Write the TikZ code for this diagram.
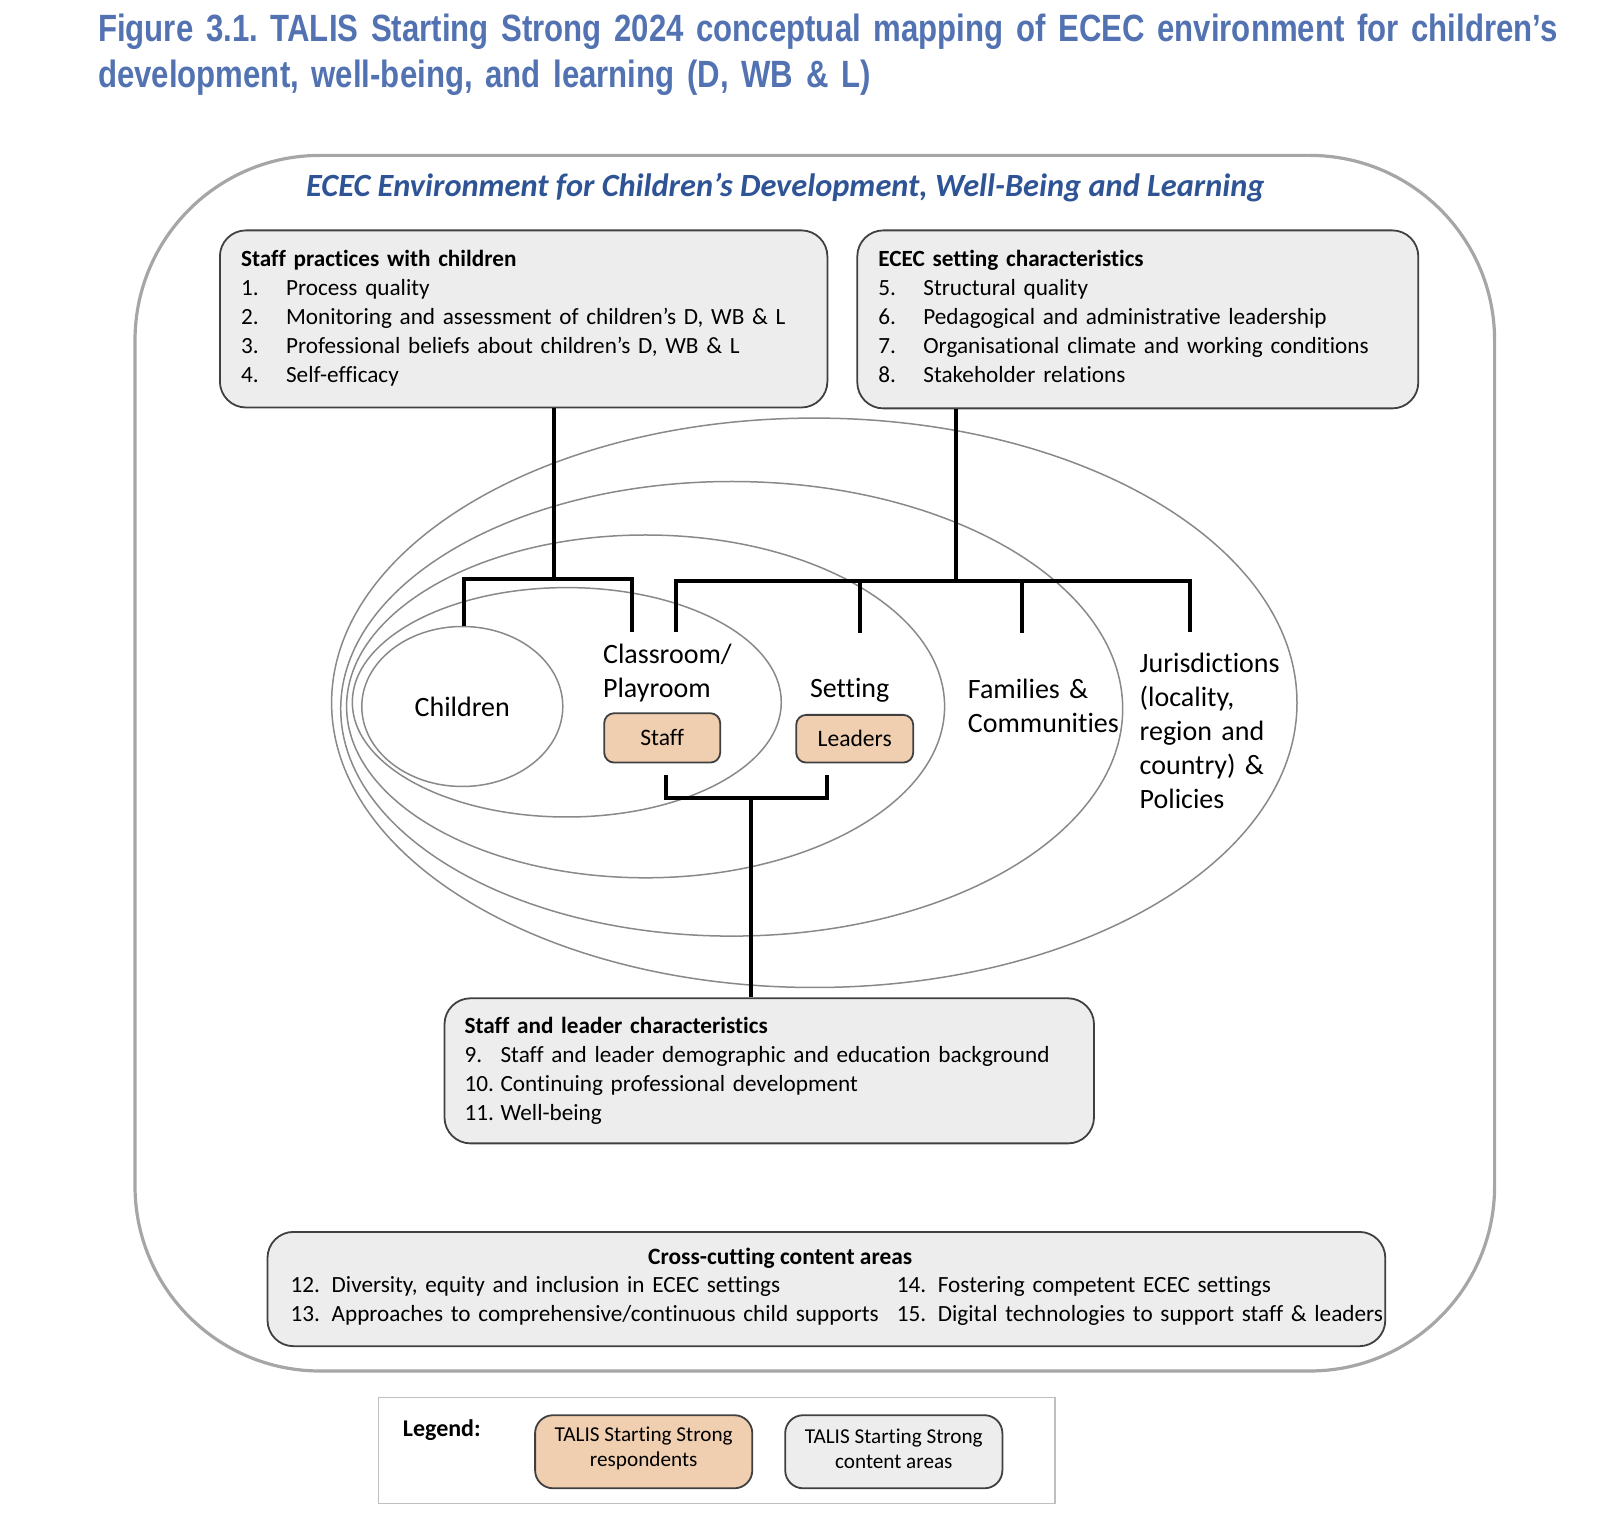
\documentclass[tikz,border=0pt]{standalone}
\usepackage{fontspec}
\setmainfont{Carlito}[Ligatures=NoCommon]
\newfontfamily\titlefont[FakeStretch=0.82]{Liberation Sans}
\usepackage{xcolor}
\usetikzlibrary{positioning, shapes.geometric, calc}
\definecolor{titleblue}{RGB}{82,114,178}
\definecolor{headblue}{RGB}{47,84,150}
\definecolor{boxgray}{RGB}{237,237,237}
\definecolor{peach}{RGB}{240,206,176}
\definecolor{ringgray}{RGB}{137,137,137}
\definecolor{framegray}{RGB}{166,166,166}
\tikzset{
    ring/.style={ellipse, draw=ringgray, line width=0.75pt, inner sep=0pt}, % ellissi annidate
    contentbox/.style={draw=black!75, fill=boxgray, rounded corners=13pt, line width=0.9pt, inner sep=0pt, anchor=north west},
    rolebox/.style={draw=black!75, fill=peach, rounded corners=5pt, line width=0.9pt, inner sep=0pt, anchor=north west, font=\fontsize{11.8}{13}\selectfont},
    link/.style={line width=1.8pt, black},
    frame/.style={draw=framegray, line width=1.6pt, rounded corners=92.5pt},
    ringlabel/.style={font=\fontsize{14}{17}\selectfont, inner sep=0pt},
    listtext/.style={font=\fontsize{11.6}{14.4}\selectfont, inner sep=0pt, align=left, anchor=base west},
    keytext/.style={inner sep=0pt, align=center, font=\fontsize{10.6}{12.35}\selectfont},
}
\newcommand{\itm}[1]{\makebox[22.5pt][l]{#1}}
\newcommand{\itmb}[1]{\makebox[18pt][l]{#1}}

\begin{document}
\begin{tikzpicture}[x=0.5pt, y=-0.5pt]
    \useasboundingbox (0,0) rectangle (1614,1534);

    % Titolo
    \node[inner sep=0pt, anchor=base west, align=left, text width=790pt, text=titleblue,
          font=\titlefont\bfseries\fontsize{19}{22.8}\selectfont\frenchspacing] (title) at (97.8,41.7)
        {Figure 3.1. TALIS Starting Strong 2024 conceptual mapping of ECEC environment for children’s\\development, well-being, and learning (D, WB \& L)};

    % Cornice
    \draw[frame] (135,155.4) rectangle (1494.6,1371);
    \node[inner sep=0pt, anchor=base, text=headblue, font=\bfseries\itshape\fontsize{16.2}{18}\selectfont] (envhead) at (785.4,197)
        {ECEC Environment for Children’s Development, Well-Being and Learning};

    % Riquadri
    \node[contentbox, minimum width=303.75pt, minimum height=88.55pt] (practices) at (219,229.5) {};
    \node[listtext, text width=295pt] (practicestext) at (240.7,267)
        {\textbf{Staff practices with children}\\
         \itm{1.}Process quality\\
         \itm{2.}Monitoring and assessment of children’s D, WB \& L\\
         \itm{3.}Professional beliefs about children’s D, WB \& L\\
         \itm{4.}Self-efficacy};
    \node[contentbox, minimum width=280.5pt, minimum height=89pt] (settingchar) at (856.4,229.5) {};
    \node[listtext, text width=270pt] (settingtext) at (878,267)
        {\textbf{ECEC setting characteristics}\\
         \itm{5.}Structural quality\\
         \itm{6.}Pedagogical and administrative leadership\\
         \itm{7.}Organisational climate and working conditions\\
         \itm{8.}Stakeholder relations};
    \node[contentbox, minimum width=324.75pt, minimum height=72.55pt] (staffchar) at (443.6,997.4) {};
    \node[listtext, text width=315pt, font=\fontsize{11.6}{14.5}\selectfont] (staffchartext) at (464.2,1034)
        {\textbf{Staff and leader characteristics}\\
         \itmb{9.}Staff and leader demographic and education background\\
         \itmb{10.}Continuing professional development\\
         \itmb{11.}Well-being};
    \node[contentbox, minimum width=558.9pt, minimum height=57.15pt] (crosscut) at (266.6,1231) {};
    \node[inner sep=0pt, anchor=base, font=\bfseries\fontsize{11.7}{14.5}\selectfont] (crosshead) at (780.2,1264.5)
        {Cross-cutting content areas};
    \node[listtext, text width=300pt, font=\fontsize{11.6}{14.7}\selectfont] (crossleft) at (290.3,1292)
        {12. Diversity, equity and inclusion in ECEC settings\\
         13. Approaches to comprehensive/continuous child supports};
    \node[listtext, text width=260pt, font=\fontsize{11.6}{14.7}\selectfont] (crossright) at (896.5,1292)
        {14. Fostering competent ECEC settings\\
         15. Digital technologies to support staff \& leaders};

    % Ellissi
    \node[ring, minimum width=482.7pt, minimum height=284.7pt] (jurring) at (814.3,702.8) {};
    \node[ring, minimum width=391pt, minimum height=227.3pt] (famring) at (731.7,708.8) {};
    \node[ring, minimum width=299pt, minimum height=171.4pt] (setring) at (645.6,706.4) {};
    \node[ring, minimum width=214.5pt, minimum height=114.7pt] (roomring) at (566.8,702.3) {};
    \node[ring, minimum width=100.5pt, minimum height=80pt, font=\fontsize{14}{17}\selectfont] (kids) at (462.3,706.5) {Children};

    \node[ringlabel, anchor=base west, text width=80pt, align=left] (roomlbl) at (602.7,664) {Classroom/\\Playroom};
    \node[ringlabel, anchor=base] (setlbl) at (849.7,697.3) {Setting};
    \node[ringlabel, anchor=base west, text width=80pt, align=left] (famlbl) at (967.5,698.3) {Families \&\\Communities};
    \node[ringlabel, anchor=base west, text width=80pt, align=left] (jurlbl) at (1139.3,672.7)
        {Jurisdictions\\(locality,\\region and\\country) \&\\Policies};

    \node[rolebox, minimum width=58pt, minimum height=24.7pt] (staff) at (603.3,712.3) {Staff};
    \node[rolebox, minimum width=58.5pt, minimum height=23.85pt] (leaders) at (795.3,714) {Leaders};

    % Collegamenti
    \coordinate (hubL) at (554,579);
    \coordinate (toKids) at (464,626);
    \coordinate (toRoom) at (632,632);
    \draw[link] (practices.south -| hubL) -- (hubL);
    \draw[link] (toKids) |- (hubL) -| (toRoom);

    \coordinate (hubR) at (956,581);
    \coordinate (toSetRoom) at (676,632);
    \coordinate (toJur) at (1190,632);
    \draw[link] (settingchar.south -| hubR) -- (hubR);
    \draw[link] (toSetRoom) |- (hubR) -| (toJur);
    \foreach \x/\name in {860/toSetting, 1022/toFam} {
        \coordinate (\name) at (\x,633);
        \draw[link] (\name |- hubR) -- (\name);
    }

    \coordinate (fromStaff) at (666,775);
    \coordinate (fromLead) at (827,775);
    \coordinate (hubB) at (751,798.3);
    \draw[link] (fromStaff) |- (hubB) -| (fromLead);
    \draw[link] (hubB) -- (hubB |- staffchar.north);

    % Legenda
    \node[draw=black!25, line width=0.75pt, anchor=north west, minimum width=338.1pt, minimum height=53pt] (legend) at (377.8,1396.8) {};
    \node[inner sep=0pt, anchor=base west, font=\bfseries\fontsize{12}{14}\selectfont] (legendlbl) at (402.5,1436) {Legend:};
    \node[rolebox, rounded corners=9pt, minimum width=108.6pt, minimum height=36.55pt] (keyresp) at (534.2,1414.3) {};
    \node[keytext] (keyresptext) at ($(keyresp.center)+(0,-3)$) {TALIS Starting Strong\\respondents};
    \node[contentbox, rounded corners=9pt, minimum width=108.6pt, minimum height=36.55pt] (keyarea) at (784.3,1414.3) {};
    \node[keytext] (keyareatext) at ($(keyarea.center)+(0,-3)$) {TALIS Starting Strong\\content areas};
\end{tikzpicture}
\end{document}
